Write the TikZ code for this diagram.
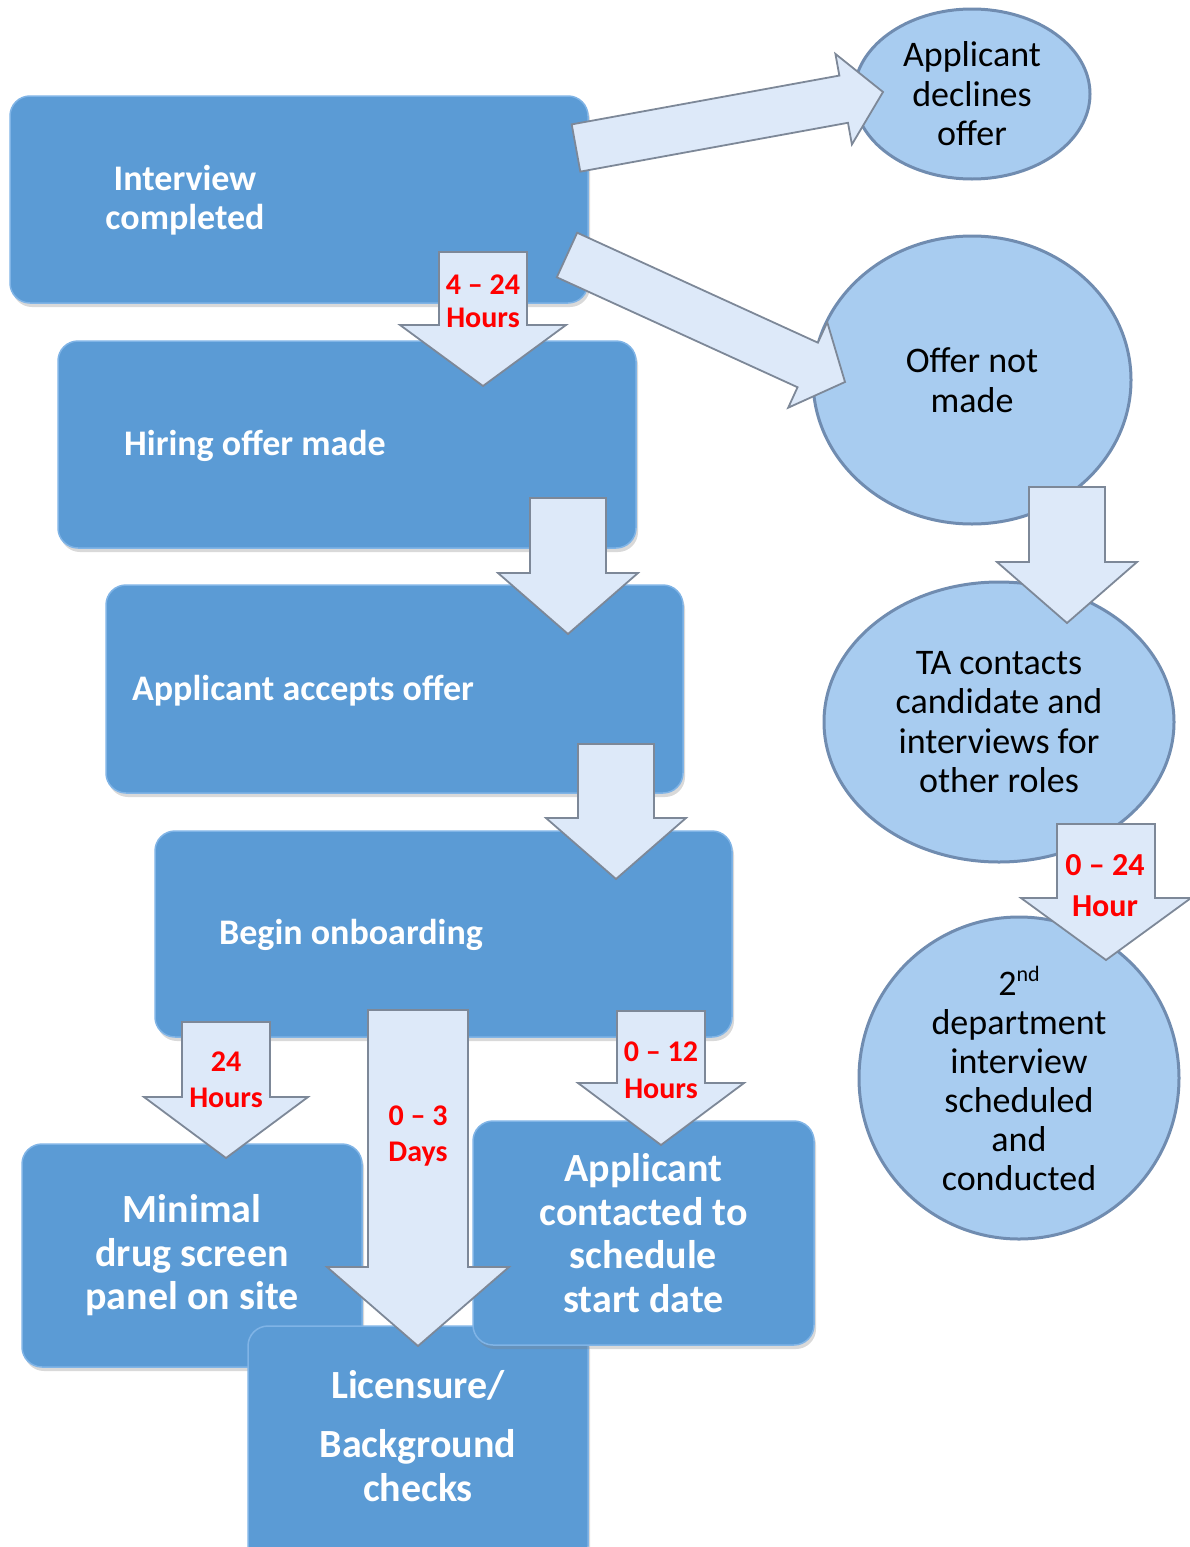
\documentclass[tikz,border=0pt]{standalone}
\usepackage{fontspec}
\setmainfont{Carlito}
\usepackage{tikz}
\usetikzlibrary{shapes.geometric,calc,shadows}

\definecolor{boxblue}{RGB}{91,155,213}
\definecolor{boxedge}{RGB}{128,180,230}
\definecolor{ovalblue}{RGB}{168,204,240}
\definecolor{ovaledge}{RGB}{112,140,176}
\definecolor{arrowfill}{RGB}{221,233,249}
\definecolor{arrowedge}{RGB}{125,136,152}

\newcommand{\blockarrow}[5]{%
  \path (#1) coordinate (ba-s) (#2) coordinate (ba-t);
  \path ($(ba-t)!#5!(ba-s)$) coordinate (ba-h);
  \draw[arrowbody] ($(ba-s)!#3!90:(ba-t)$) -- ($(ba-h)!#3!90:(ba-t)$)
    -- ($(ba-h)!#4!90:(ba-t)$) -- (ba-t) -- ($(ba-h)!#4!-90:(ba-t)$)
    -- ($(ba-h)!#3!-90:(ba-t)$) -- ($(ba-s)!#3!-90:(ba-t)$) -- cycle;
}

\begin{document}
\begin{tikzpicture}[x=1pt,y=-1pt,
every node/.style={inner sep=0pt,outer sep=0pt},
stepbox/.style={rectangle,rounded corners=20pt,fill=boxblue,draw=boxedge,line width=1.5pt,
  drop shadow={opacity=0.3,shadow xshift=2pt,shadow yshift=-4pt}},
boxtext/.style={text=white,align=center,font=\fontsize{36}{39}\selectfont\bfseries},
bigtext/.style={text=white,align=center,font=\fontsize{40}{43.5}\selectfont\bfseries},
oval/.style={ellipse,fill=ovalblue,draw=ovaledge,line width=3pt,align=center,
  font=\fontsize{36}{39.5}\selectfont},
arrowbody/.style={fill=arrowfill,draw=arrowedge,line width=1.8pt,line join=miter},
hours/.style={text=red,align=center,font=\fontsize{30}{36}\selectfont\bfseries}]

\useasboundingbox (0,0) rectangle (1190,1547);
\clip (0,0) rectangle (1190,1547);

\node[oval,minimum width=236pt,minimum height=170pt] (declines) at (972,94) {Applicant\\declines\\offer};
\node[oval,minimum width=318pt,minimum height=288pt] (notmade) at (972,380) {Offer not\\made};
\node[oval,minimum width=350pt,minimum height=280pt] (ta) at (999,722) {TA contacts\\candidate and\\interviews for\\other roles};
\node[oval,minimum width=320pt,minimum height=322pt,inner ysep=-10pt,
  font=\fontsize{36}{39}\selectfont] (second) at (1019,1078)
  {2\raisebox{14pt}{\fontsize{22}{22}\selectfont nd}\\department\\interview\\scheduled\\and\\conducted};

\node[stepbox,minimum width=578pt,minimum height=207pt] (interview) at (299,199.5) {};
\node[boxtext] (interview-txt) at (185,200) {Interview\\completed};
\node[stepbox,minimum width=578pt,minimum height=207pt] (offer) at (347,444.5) {};
\node[boxtext] (offer-txt) at (255,446) {Hiring offer made};
\node[stepbox,minimum width=577pt,minimum height=208pt] (accepts) at (394.5,689) {};
\node[boxtext] (accepts-txt) at (303,691) {Applicant accepts offer};
\node[stepbox,minimum width=577pt,minimum height=206pt] (onboard) at (443.5,934) {};
\node[boxtext] (onboard-txt) at (351,935) {Begin onboarding};

\node[stepbox,bigtext,minimum width=340pt,minimum height=223pt] (drug) at (192,1255.5) {Minimal\\drug screen\\panel on site};
\node[stepbox,minimum width=340pt,minimum height=240pt] (license) at (418,1446) {};
\node[bigtext] (license-txt) at (418,1436) {Licensure/\\[16pt]Background\\checks};
\node[stepbox,bigtext,minimum width=341pt,minimum height=224pt] (contact) at (643.5,1233) {Applicant\\contacted to\\schedule\\start date};

\coordinate (d1s) at (576,148); \coordinate (d1t) at (883,92);
\coordinate (d2s) at (567,255); \coordinate (d2t) at (845,382);
\coordinate (a1s) at (483,252); \coordinate (a1t) at (483,386);
\coordinate (a2s) at (568,498); \coordinate (a2t) at (568,634);
\coordinate (a3s) at (616,744); \coordinate (a3t) at (616,879);
\coordinate (a4s) at (1067,487); \coordinate (a4t) at (1067,623);
\coordinate (a5s) at (1106,824); \coordinate (a5t) at (1106,960);
\coordinate (a6s) at (226,1022); \coordinate (a6t) at (226,1158);
\coordinate (a7s) at (418,1010); \coordinate (a7t) at (418,1346);
\coordinate (a8s) at (661,1011); \coordinate (a8t) at (661,1145);

\blockarrow{d1s}{d1t}{24pt}{46pt}{40pt}
\blockarrow{d2s}{d2t}{24.5pt}{47pt}{41pt}
\blockarrow{a1s}{a1t}{44pt}{83pt}{61pt}
\blockarrow{a2s}{a2t}{38pt}{70pt}{61pt}
\blockarrow{a3s}{a3t}{38pt}{70pt}{61pt}
\blockarrow{a4s}{a4t}{38pt}{70pt}{61pt}
\blockarrow{a5s}{a5t}{49pt}{85pt}{62pt}
\blockarrow{a6s}{a6t}{44pt}{82pt}{61pt}
\blockarrow{a7s}{a7t}{50pt}{91pt}{79pt}
\blockarrow{a8s}{a8t}{44pt}{83pt}{62pt}

\node[hours,font=\fontsize{30}{33}\selectfont\bfseries] (h-offer) at (483,301) {4 – 24\\Hours};
\node[hours,font=\fontsize{32}{41}\selectfont\bfseries] (h-second) at (1105,886) {0 – 24\\Hour};
\node[hours] (h-drug) at (226,1080) {24\\Hours};
\node[hours] (h-license) at (418,1136) {0 – 3\\Days};
\node[hours,font=\fontsize{30}{37}\selectfont\bfseries] (h-contact) at (661,1070) {0 – 12\\Hours};
\end{tikzpicture}
\end{document}
